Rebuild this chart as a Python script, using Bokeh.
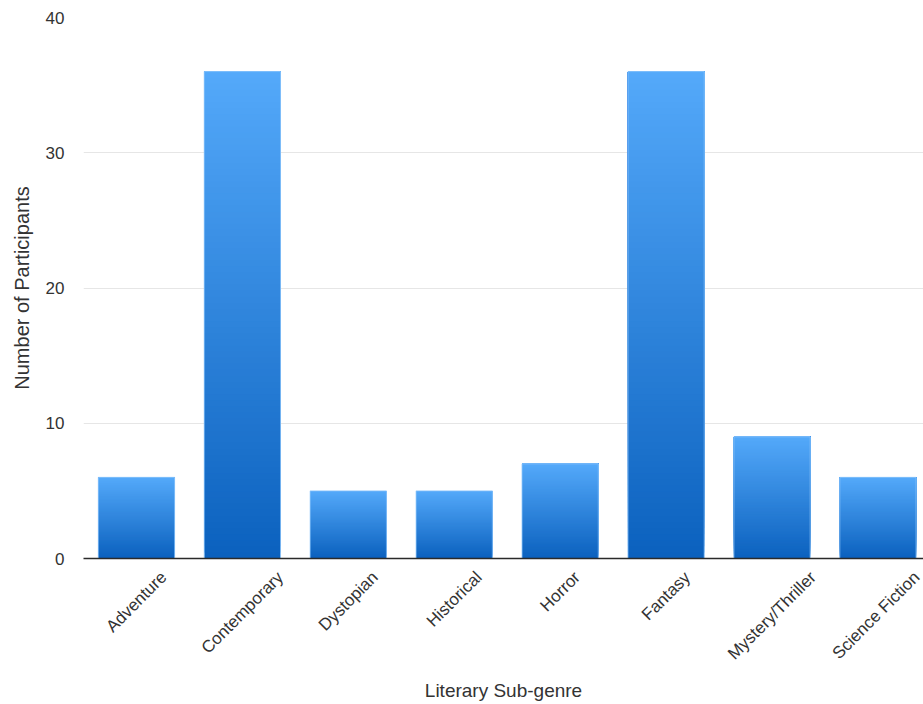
import numpy as np
from bokeh.plotting import figure
from bokeh.models import Range1d, FixedTicker, ColumnDataSource
from bokeh.embed import file_html
from bokeh.resources import INLINE

# Survey results: preferred literary sub-genre
genres = ["Adventure", "Contemporary", "Dystopian", "Historical",
          "Horror", "Fantasy", "Mystery/Thriller", "Science Fiction"]
participants = [6, 36, 5, 5, 7, 36, 9, 6]
y_ticks = [0, 10, 20, 30, 40]

FONT = "Liberation Sans"
TEXT = "#333333"
BAR_W = 0.72
TICK_PX = 17
TOP_RGB = np.array([84, 169, 250])
BOTTOM_RGB = np.array([11, 97, 190])
SLICES = 80
X_START, X_END = -0.5, 7.43
FRAME_LEFT, FIG_W = 83, 923

# Advance widths (1/1000 em) of Liberation Sans, used to centre the
# rotated category labels under their bars
ADV = {"A": 667, "C": 722, "D": 722, "F": 611, "H": 722, "M": 833, "S": 667,
       "T": 611, "a": 556, "c": 500, "d": 556, "e": 556, "h": 556, "i": 222,
       "l": 222, "m": 833, "n": 556, "o": 556, "p": 556, "r": 333, "s": 500,
       "t": 278, "u": 556, "v": 500, "y": 500, "/": 278, " ": 278}


def text_px(s, size):
    return sum(ADV.get(ch, 556) for ch in s) * size / 1000.0


px_per_unit = (FIG_W - FRAME_LEFT) / (X_END - X_START)

p = figure(width=FIG_W, height=704, output_backend="svg", toolbar_location=None,
           x_range=Range1d(X_START, X_END), y_range=Range1d(0, 40),
           min_border_left=FRAME_LEFT, min_border_right=0, min_border_top=17,
           min_border_bottom=146)
p.outline_line_color = None
p.background_fill_color = "white"
p.border_fill_color = "white"

# Vertical gradient per bar: overlapping layers, each running from its own
# start height up to the bar top, painted bottom (dark) to top (light)
xs, bottoms, tops, colors = [], [], [], []
for i, v in enumerate(participants):
    for k in range(SLICES):
        f0 = k / SLICES
        fm = (k + 0.5) / SLICES
        rgb = BOTTOM_RGB + (TOP_RGB - BOTTOM_RGB) * fm
        xs.append(i)
        bottoms.append(v * f0)
        tops.append(v)
        colors.append("#%02x%02x%02x" % tuple(int(round(c)) for c in rgb))
slices = ColumnDataSource(dict(x=xs, bottom=bottoms, top=tops, color=colors))
p.vbar(x="x", bottom="bottom", top="top", width=BAR_W, source=slices,
       fill_color="color", line_color=None)

# Soft light edge around each bar
bars = ColumnDataSource(dict(x=list(range(len(genres))), top=participants))
p.vbar(x="x", top="top", bottom=0, width=BAR_W, source=bars,
       fill_color=None, line_color="#8cc4fa", line_width=1, line_alpha=0.8)

# Axes: each rotated label ends at its tick, so place the tick half the
# label's diagonal extent right of the bar centre
xa = p.xaxis[0]
ticks = [i + text_px(g, TICK_PX) * 0.3536 / px_per_unit
         for i, g in enumerate(genres)]
xa.ticker = FixedTicker(ticks=ticks)
xa.major_label_overrides = {t: g for t, g in zip(ticks, genres)}
xa.major_label_orientation = np.pi / 4
xa.major_tick_line_color = None
xa.minor_tick_line_color = None
xa.axis_line_color = "#2a2a2a"
xa.axis_line_width = 1.6
xa.major_label_text_font = FONT
xa.major_label_text_font_size = f"{TICK_PX}px"
xa.major_label_text_color = TEXT
xa.major_label_standoff = 10
xa.axis_label = "Literary Sub-genre"
xa.axis_label_text_font = FONT
xa.axis_label_text_font_size = "19px"
xa.axis_label_text_font_style = "normal"
xa.axis_label_text_color = TEXT
xa.axis_label_standoff = 7

ya = p.yaxis[0]
ya.ticker = FixedTicker(ticks=y_ticks)
ya.axis_line_color = None
ya.major_tick_line_color = None
ya.minor_tick_line_color = None
ya.major_label_text_font = FONT
ya.major_label_text_font_size = f"{TICK_PX}px"
ya.major_label_text_color = TEXT
ya.major_label_standoff = 13
ya.axis_label = "Number of Participants"
ya.axis_label_text_font = FONT
ya.axis_label_text_font_size = "20px"
ya.axis_label_text_font_style = "normal"
ya.axis_label_text_color = TEXT
ya.axis_label_standoff = 10

p.xgrid.grid_line_color = None
p.ygrid.grid_line_color = "#e6e6e6"
p.ygrid.grid_line_width = 1
p.ygrid.ticker = FixedTicker(ticks=y_ticks[1:])

open("out.html", "w").write(file_html(p, INLINE))
